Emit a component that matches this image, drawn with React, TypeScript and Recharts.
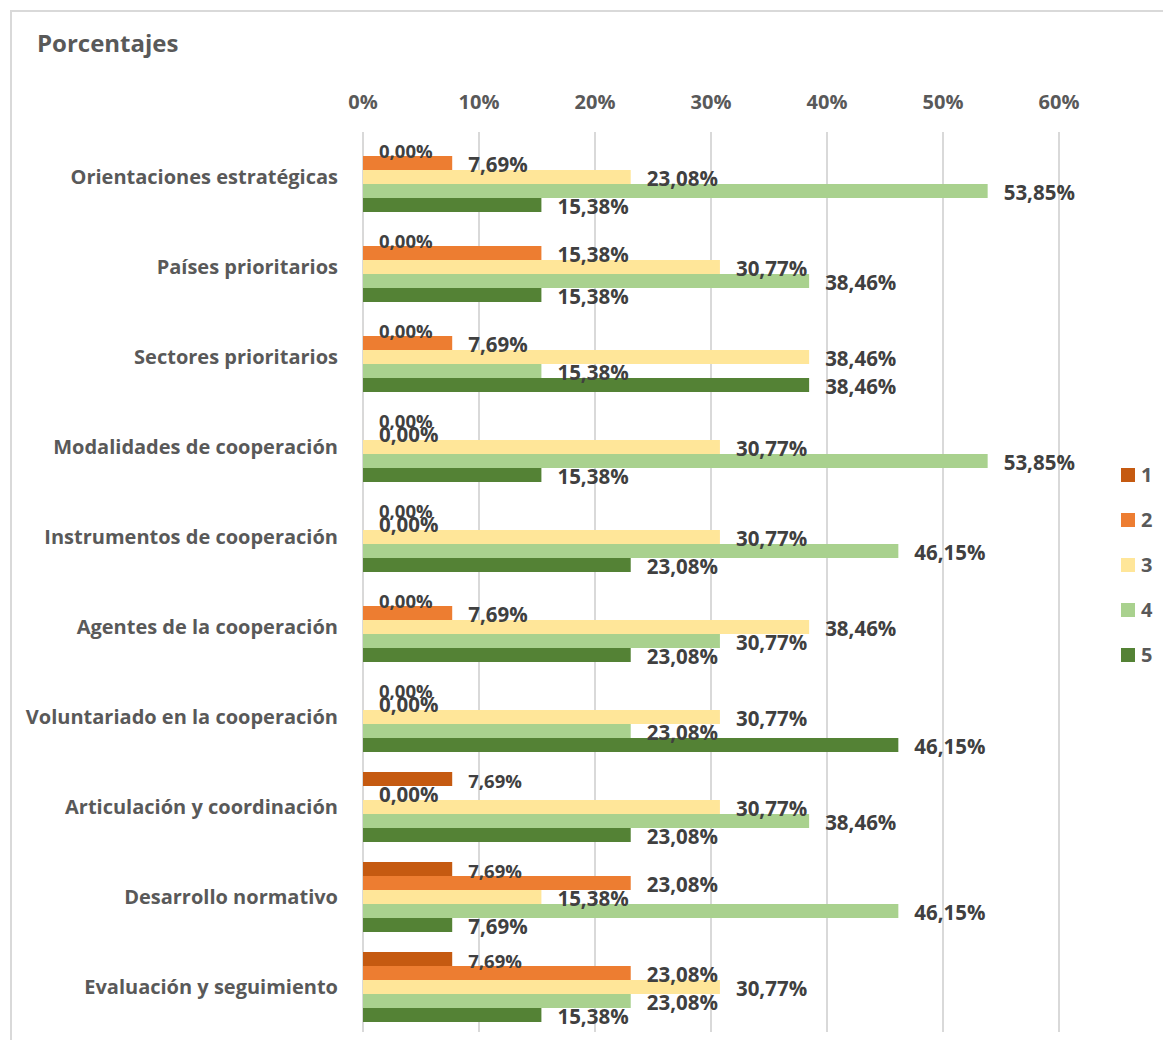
import React from 'react';
import { BarChart, Bar, XAxis, YAxis, CartesianGrid, LabelList } from 'recharts';

const categories = [
  'Orientaciones estratégicas',
  'Países prioritarios',
  'Sectores prioritarios',
  'Modalidades de cooperación',
  'Instrumentos de cooperación',
  'Agentes de la cooperación',
  'Voluntariado en la cooperación',
  'Articulación y coordinación',
  'Desarrollo normativo',
  'Evaluación y seguimiento',
];

const series1 = [0, 0, 0, 0, 0, 0, 0, 7.69, 7.69, 7.69];
const series2 = [7.69, 15.38, 7.69, 0, 0, 7.69, 0, 0, 23.08, 23.08];
const series3 = [23.08, 30.77, 38.46, 30.77, 30.77, 38.46, 30.77, 30.77, 15.38, 30.77];
const series4 = [53.85, 38.46, 15.38, 53.85, 46.15, 30.77, 23.08, 38.46, 46.15, 23.08];
const series5 = [15.38, 15.38, 38.46, 15.38, 23.08, 23.08, 46.15, 23.08, 7.69, 15.38];

const seriesNames = ['1', '2', '3', '4', '5'];
const seriesColors = ['#C55A11', '#ED7D31', '#FFE699', '#A9D18E', '#548235'];
const xTicks = [0, 10, 20, 30, 40, 50, 60];
const title = 'Porcentajes';

const allSeries = [series1, series2, series3, series4, series5];

const data = categories.map((name, i) => {
  const row: any = { name };
  allSeries.forEach((s, k) => {
    row['s' + (k + 1)] = s[i];
  });
  return row;
});

const fmt = (v: number) => v.toFixed(2).replace('.', ',') + '%';

const makeLabel = (size: number) => (props: any) => {
  const { x, y, width, height, value } = props;
  return (
    <text
      x={Number(x) + Number(width) + 16}
      y={Number(y) + Number(height) / 2 + 1}
      dominantBaseline="central"
      fontSize={size}
      fontWeight={700}
      fill="#404040"
    >
      {fmt(Number(value))}
    </text>
  );
};

export default function App() {
  return (
    <div
      style={{
        position: 'relative',
        width: 1155,
        height: 1032,
        fontFamily: '"Open Sans", sans-serif',
        background: '#fff',
      }}
    >
      <div
        style={{
          position: 'absolute',
          left: 2,
          top: 2,
          right: -8,
          bottom: -8,
          borderLeft: '2px solid #d9d9d9',
          borderTop: '2px solid #d9d9d9',
          pointerEvents: 'none',
        }}
      />
      <div
        style={{
          position: 'absolute',
          left: 29,
          top: 23,
          fontSize: 24,
          lineHeight: '24px',
          fontWeight: 700,
          color: '#595959',
        }}
      >
        {title}
      </div>
      <BarChart
        width={1155}
        height={1032}
        data={data}
        layout="vertical"
        margin={{ top: 94, right: 104, bottom: 8, left: 0 }}
        barGap={0}
        barSize={14}
      >
        <CartesianGrid horizontal={false} stroke="#d9d9d9" strokeWidth={2} />
        <XAxis
          type="number"
          orientation="top"
          domain={[0, 60]}
          ticks={xTicks}
          tickFormatter={(v: number) => v + '%'}
          axisLine={false}
          tickLine={false}
          height={30}
          tickMargin={17}
          tick={{ fill: '#595959', fontSize: 20, fontWeight: 700 }}
        />
        <YAxis
          type="category"
          dataKey="name"
          width={355}
          axisLine={false}
          tickLine={false}
          tickMargin={19}
          interval={0}
          tick={{ fill: '#595959', fontSize: 20, fontWeight: 700 }}
        />
        {seriesNames.map((n, k) => (
          <Bar
            key={n}
            dataKey={'s' + (k + 1)}
            name={n}
            fill={seriesColors[k]}
            minPointSize={0.01}
            isAnimationActive={false}
          >
            <LabelList dataKey={'s' + (k + 1)} content={makeLabel(k === 0 ? 18.5 : 20.5)} />
          </Bar>
        ))}
      </BarChart>
      <div style={{ position: 'absolute', left: 1113, top: 0 }}>
        {seriesNames.map((n, k) => (
          <div
            key={n}
            style={{
              position: 'absolute',
              left: 0,
              top: 467 + k * 45 - 12,
              height: 24,
              display: 'flex',
              alignItems: 'center',
              whiteSpace: 'nowrap',
            }}
          >
            <div style={{ width: 14, height: 14, background: seriesColors[k], marginRight: 6 }} />
            <span style={{ fontSize: 20, fontWeight: 700, color: '#595959', lineHeight: '24px' }}>{n}</span>
          </div>
        ))}
      </div>
    </div>
  );
}
